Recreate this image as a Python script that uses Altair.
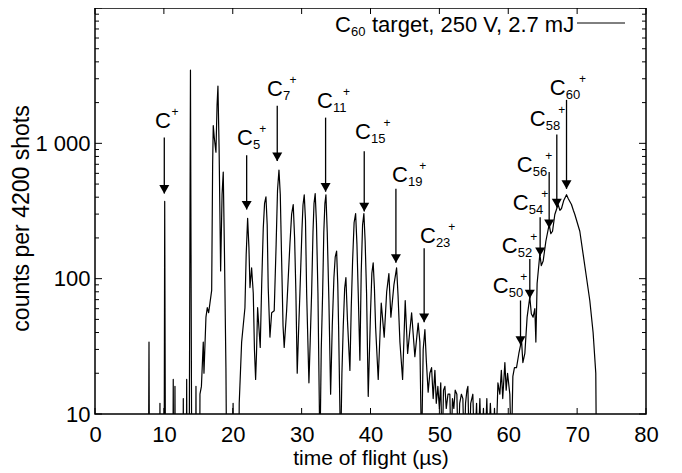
import altair as alt
import pandas as pd

F = "Liberation Sans"
W, H = 551, 406

# ---- spectrum (time of flight in µs, counts per 4200 shots); values < 10 lie below the axis
tof_us = [
    0.0, 7.72, 7.84, 7.95, 9.35, 9.43, 9.52, 10.02, 10.12, 10.26,
    11.28, 11.36, 11.45, 11.53, 11.61, 11.70, 12.74, 12.82, 12.90, 13.22,
    13.31, 13.40, 13.64, 13.86, 14.08, 14.58, 14.66, 14.75,
    15.15, 15.24, 15.45, 15.72, 15.82, 16.11, 16.30, 16.50, 16.69, 16.94,
    17.08, 17.17, 17.32, 17.56, 17.72, 17.85, 18.02, 18.24, 18.45, 18.62, 18.80, 19.01, 19.20,
    19.95, 20.05, 20.15,
    20.80, 20.94, 21.29, 21.77, 21.95, 22.16, 22.35, 22.50, 22.74, 22.98,
    23.15, 23.32, 23.45, 23.61, 23.99, 24.20, 24.43, 24.62, 24.82, 25.00,
    25.15, 25.40, 25.65, 26.02, 26.30, 26.50, 26.71, 26.90, 27.10, 27.30,
    27.47, 27.82, 28.30, 28.55, 28.78, 28.98, 29.17, 29.36, 29.55, 29.75,
    30.05, 30.20, 30.38, 30.56, 30.73, 31.06, 31.25, 31.45, 31.65, 31.80,
    31.97, 32.15, 32.37, 32.66, 32.85, 33.05, 33.22, 33.38, 33.53, 33.72,
    33.96, 34.21, 34.45, 34.69, 34.88, 35.08, 35.25, 35.37, 35.66, 35.85,
    36.04, 36.25, 36.43, 36.65, 37.01, 37.20, 37.40, 37.62, 37.84, 38.03,
    38.22, 38.46, 38.65, 38.85, 39.04, 39.22, 39.43, 39.67, 40.01, 40.20,
    40.39, 40.57, 40.74, 41.12, 41.56, 41.99, 42.35, 42.67, 42.96, 43.40,
    43.79, 44.00, 44.27, 44.66, 45.04, 45.39, 45.97, 46.44, 46.92, 47.17,
    47.41, 47.65, 47.90, 48.10,
    48.37, 48.62, 48.87, 49.10, 49.35, 49.55, 49.78, 50.00, 50.20, 50.40,
    50.60, 50.80, 51.00, 51.25, 51.52, 51.70, 51.90, 52.10, 52.30, 52.54,
    52.75, 52.95, 53.20, 53.41, 53.60, 53.80, 54.00, 54.14, 54.35, 54.55,
    54.86, 55.10, 55.40, 55.60, 55.88, 56.10, 56.40, 56.60, 56.89, 57.10,
    57.40, 57.76, 58.00, 58.20, 58.50, 58.78, 59.00, 59.20, 59.51, 59.70,
    59.90, 60.23, 60.45, 60.67, 60.90,
    61.20, 61.54, 61.93, 62.12, 62.41, 62.74, 63.13, 63.35, 63.61, 63.86,
    64.01, 64.19, 64.59, 64.80, 65.07, 65.46, 65.94, 66.18, 66.43, 66.76,
    67.24, 67.50, 67.73, 68.07, 68.46, 68.72, 69.18, 69.45, 69.67, 70.39,
    70.87, 71.36, 71.84, 72.32, 72.71, 72.90, 80.0,
]
counts = [
    1, 1, 34, 1, 1, 12, 1, 1, 372, 1,
    1, 18, 1, 1, 16, 1, 1, 13, 1, 1,
    18, 1, 1, 3470, 1, 1, 16, 1,
    1, 14, 16, 34, 20, 52, 61, 56, 66, 82,
    700, 1353, 1100, 859, 1900, 2650, 900, 114, 420, 614, 150, 22, 1,
    1, 12, 1,
    1, 12, 34, 61, 150, 279, 170, 86, 120, 78,
    30, 18, 28, 61, 31, 90, 236, 360, 403, 250,
    86, 37, 56, 58, 180, 450, 635, 420, 135, 45,
    31, 58, 180, 300, 353, 200, 78, 20, 40, 78,
    230, 350, 417, 270, 78, 17, 35, 78, 220, 360,
    425, 260, 78, 5, 30, 78, 220, 360, 417, 220,
    69, 14, 45, 102, 145, 160, 90, 44, 5, 20,
    44, 85, 102, 50, 21, 60, 135, 260, 303, 180,
    78, 25, 110, 250, 303, 190, 78, 13.5, 58, 110,
    131, 85, 44, 18, 66, 37, 80, 109, 52, 90,
    120, 75, 34, 18, 69, 28, 56, 26.5, 47, 34,
    5, 30, 42, 25,
    14.5, 20, 22, 13, 21, 12, 16, 11, 17, 5,
    15, 16, 11, 14, 14, 5, 13, 11, 15, 14,
    5, 12, 14, 13, 5, 12, 15, 16, 5, 12,
    14, 5, 12, 5, 13, 5, 11, 5, 13, 5,
    12, 5, 11, 5, 17, 14, 21, 13, 24, 15,
    20, 14, 5, 19, 22,
    22, 28, 35, 24, 28, 52, 73, 55, 52, 60,
    34, 92, 152, 125, 135, 189, 252, 215, 224, 298,
    353, 320, 330, 380, 417, 390, 353, 320, 298, 224,
    152, 102, 69, 40, 20, 1, 1,
]

# ---- axes
x_major = [0, 10, 20, 30, 40, 50, 60, 70, 80]
y_labels = [10, 100, 1000]
y_major = [10, 100, 1000, 10000]
y_minor = [20, 30, 40, 50, 60, 70, 80, 90,
           200, 300, 400, 500, 600, 700, 800, 900,
           2000, 3000, 4000, 5000, 6000, 7000, 8000, 9000]

# ---- peak annotations
ions = ["", "5", "7", "11", "15", "19", "23", "50", "52", "54", "56", "58", "60"]
label_t = [8.71, 20.61, 24.96, 32.22, 37.74, 43.11, 47.17, 57.76, 59.07, 60.67, 61.25, 63.13, 66.04]
label_c = [1309, 967, 2240, 1832, 1069, 519, 183, 77.8, 155, 324, 614, 1353, 2280]
plus_t = [11.61, 24.34, 28.74, 36.53, 42.38, 47.60, 51.81, 62.26, 63.72, 65.31, 65.89, 67.78, 70.78]
arrow_t = [10.06, 22.02, 26.46, 33.48, 39.09, 43.69, 47.79, 61.78, 63.13, 64.63, 65.94, 67.05, 68.46]
arrow_top = [1106, 817, 1893, 1549, 874, 461, 168, 69, 140, 284, 614, 1164, 2095]
arrow_tip = [425, 324, 739, 439, 314, 131, 47.7, 32.4, 71.4, 147, 236, 336, 461]

legend_sub = "60"
legend_text = "target, 250 V, 2.7 mJ"

xs = alt.Scale(domain=[0, 80], nice=False, zero=False)
ys = alt.Scale(type="log", domain=[10, 10000], nice=False)

ax_x = alt.Axis(
    values=x_major, ticks=False, tickSize=0, domain=False, grid=False,
    labelFont=F, labelFontSize=22, labelColor="black", labelPadding=27,
    labelBaseline="alphabetic", labelFlush=False, labelOverlap=False,
    title="time of flight (µs)", titleFont=F, titleFontSize=21,
    titleFontWeight="normal", titleColor="black", titleY=50,
    titleBaseline="alphabetic")
ax_y = alt.Axis(
    values=y_labels,
    labelExpr="datum.value >= 1000 ? '1 000' : '' + datum.value",
    ticks=False, tickSize=0, domain=False, grid=False,
    labelFont=F, labelFontSize=22, labelColor="black", labelPadding=5,
    labelOverlap=False,
    title="counts per 4200 shots", titleFont=F, titleFontSize=23,
    titleFontWeight="normal", titleColor="black", titleX=-67, titleY=210,
    titleBaseline="alphabetic")


def X(f):
    return alt.X(f, type="quantitative", scale=xs, axis=ax_x)


def Y(f):
    return alt.Y(f, type="quantitative", scale=ys, axis=ax_y)


spec_df = pd.DataFrame({"t": tof_us, "c": counts})
line = alt.Chart(spec_df).mark_line(
    color="black", strokeWidth=1.2, clip=True, strokeJoin="round"
).encode(x=X("t"), y=Y("c"))

xt = pd.DataFrame({"t": x_major})
ymj = pd.DataFrame({"c": y_major})
ymn = pd.DataFrame({"c": y_minor})


def xrule(y1, y2):
    return alt.Chart(xt).mark_rule(color="black", strokeWidth=1).encode(
        x=X("t"), y=alt.value(y1), y2=alt.value(y2))


def yrule(df, x1, x2):
    return alt.Chart(df).mark_rule(color="black", strokeWidth=1).encode(
        y=Y("c"), x=alt.value(x1), x2=alt.value(x2))


ticks = [
    xrule(H, H - 6), xrule(0, 6),
    yrule(ymj, 0, 7), yrule(ymn, 0, 4),
    yrule(ymj, W, W - 7), yrule(ymn, W, W - 4),
]

arr = pd.DataFrame({"t": arrow_t, "c": arrow_top, "c2": arrow_tip})
shaft = alt.Chart(arr).mark_rule(color="black", strokeWidth=1.3).encode(
    x=X("t"), y=Y("c"), y2="c2:Q")
head = alt.Chart(arr).mark_point(
    shape="triangle-down", filled=True, size=100, color="black", opacity=1, yOffset=-4.3
).encode(x=X("t"), y=Y("c2"))

lab = pd.DataFrame({"t": label_t, "c": label_c, "sub": ions, "tp": plus_t})
c_txt = alt.Chart(lab).mark_text(
    text="C", align="left", baseline="alphabetic", font=F, fontSize=22, color="black"
).encode(x=X("t"), y=Y("c"))
sub_txt = alt.Chart(lab).mark_text(
    align="left", baseline="alphabetic", font=F, fontSize=13, color="black", dx=16, dy=4
).encode(x=X("t"), y=Y("c"), text="sub:N")
plus_txt = alt.Chart(lab).mark_text(
    text="+", align="center", baseline="alphabetic", font=F, fontSize=12, color="black", dy=-12
).encode(x=X("tp"), y=Y("c"))

dummy = pd.DataFrame({"k": [0]})
leg_c = alt.Chart(dummy).mark_text(
    text="C", align="left", baseline="alphabetic", font=F, fontSize=22, color="black"
).encode(x=alt.value(240), y=alt.value(24))
leg_sub = alt.Chart(dummy).mark_text(
    text=legend_sub, align="left", baseline="alphabetic", font=F, fontSize=13, color="black"
).encode(x=alt.value(256), y=alt.value(28))
leg_txt = alt.Chart(dummy).mark_text(
    text=legend_text, align="left", baseline="alphabetic", font=F, fontSize=22, color="black"
).encode(x=alt.value(277), y=alt.value(24))
leg_line = alt.Chart(dummy).mark_rule(color="black", strokeWidth=1).encode(
    x=alt.value(482), x2=alt.value(530), y=alt.value(15))

chart = alt.layer(
    line, *ticks, shaft, head, c_txt, sub_txt, plus_txt, leg_c, leg_sub, leg_txt, leg_line
).properties(
    width=W, height=H,
    padding={"left": 87, "top": 0, "right": 20, "bottom": 55},
    autosize=alt.AutoSizeParams(type="none"),
    background="white",
).configure_view(stroke="black", strokeWidth=1.5)

chart.save("out.html", embed_options={"renderer": "svg", "actions": False})
